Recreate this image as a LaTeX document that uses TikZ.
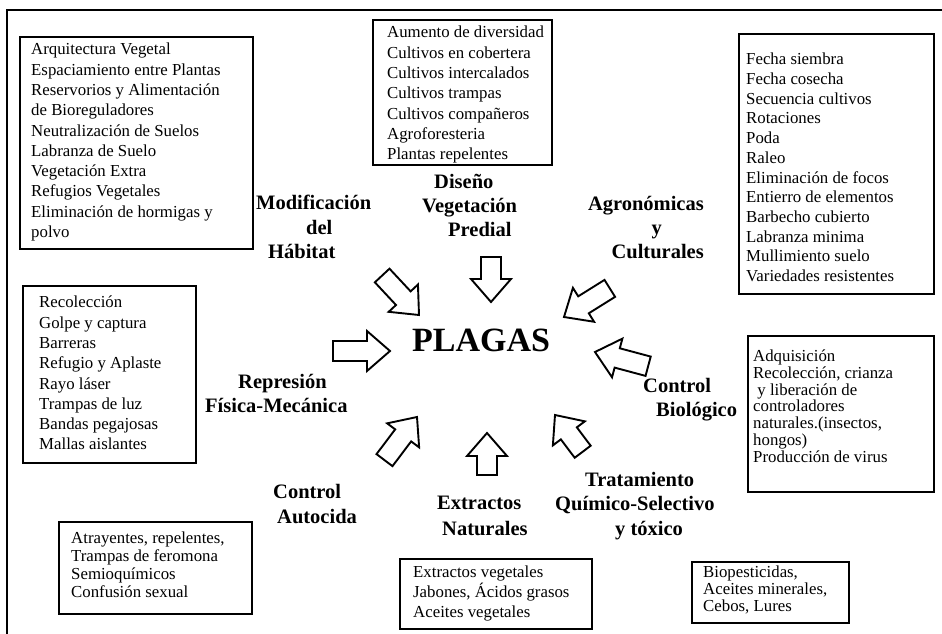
\documentclass[tikz,border=0pt]{standalone}
\usepackage{fontspec}
\setmainfont{Liberation Serif}
\begin{document}
\begin{tikzpicture}[x=1pt,y=-1pt,
  frame/.style={line width=1.8pt},
  listbox/.style={draw, line width=1.9pt, anchor=north west, inner sep=0pt},
  listtext/.style={anchor=north west, inner sep=0pt, align=left,
    font=\fontsize{16.8}{#1}\selectfont,
    execute at begin node={\rule{0pt}{12pt}}},
  grouplabel/.style={anchor=north west, inner sep=0pt, align=left,
    font=\bfseries\fontsize{20.5}{#1}\selectfont,
    execute at begin node={\rule{0pt}{15pt}}},
  arrowline/.style={draw, fill=white, line width=1.9pt, line join=miter},
  pics/blockarrow/.style={code={
    \draw[arrowline] (0,0) -- (-23,20) -- (-23,10) -- (-#1,10)
      -- (-#1,-10) -- (-23,-10) -- (-23,-20) -- cycle;}}
]
\useasboundingbox (0,0) rectangle (942,634);

% page frame (top and left edges)
\draw[frame] (7,634) -- (7,10) -- (942,10);

% centre
\node[font=\bfseries\fontsize{34}{40}\selectfont, inner sep=0pt] (plagas) at (481,340) {PLAGAS};

% lists of practices
\node[listbox, minimum width=233pt, minimum height=212pt] (boxHab) at (19,36) {};
\node[listtext=20.3] (txtHab) at (31,43) {Arquitectura Vegetal\\Espaciamiento entre Plantas\\Reservorios y Alimentación\\de Bioreguladores\\Neutralización de Suelos\\Labranza de Suelo\\Vegetación Extra\\Refugios Vegetales\\Eliminación de hormigas y\\polvo};

\node[listbox, minimum width=179pt, minimum height=145pt] (boxVeg) at (372,19) {};
\node[listtext=20.3] (txtVeg) at (387,26) {Aumento de diversidad\\Cultivos en cobertera\\Cultivos intercalados\\Cultivos trampas\\Cultivos compañeros\\Agroforesteria\\Plantas repelentes};

\node[listbox, minimum width=195pt, minimum height=260pt] (boxAgr) at (738,33) {};
\node[listtext=19.7] (txtAgr) at (746,53) {Fecha siembra\\Fecha cosecha\\Secuencia cultivos\\Rotaciones\\Poda\\Raleo\\Eliminación de focos\\Entierro de elementos\\Barbecho cubierto\\Labranza minima\\Mullimiento suelo\\Variedades resistentes};

\node[listbox, minimum width=173pt, minimum height=177pt] (boxFis) at (22,285) {};
\node[listtext=20.3] (txtFis) at (39,296) {Recolección\\Golpe y captura\\Barreras\\Refugio y Aplaste\\Rayo láser\\Trampas de luz\\Bandas pegajosas\\Mallas aislantes};

\node[listbox, minimum width=193pt, minimum height=92pt] (boxAut) at (58,521) {};
\node[listtext=18] (txtAut) at (71,532) {Atrayentes, repelentes,\\Trampas de feromona\\Semioquímicos\\Confusión sexual};

\node[listbox, minimum width=192pt, minimum height=70pt] (boxExt) at (399,558) {};
\node[listtext=20] (txtExt) at (413,566) {Extractos vegetales\\Jabones, Ácidos grasos\\Aceites vegetales};

\node[listbox, minimum width=186pt, minimum height=156pt] (boxBio) at (747,335) {};
\node[listtext=16.7] (txtBio) at (753,350) {Adquisición\\Recolección, crianza\\\ y liberación de\\controladores\\naturales.(insectos,\\hongos)\\Producción de virus};

\node[listbox, minimum width=157pt, minimum height=61pt] (boxQui) at (691,561) {};
\node[listtext=17] (txtQui) at (703,566) {Biopesticidas,\\Aceites minerales,\\Cebos, Lures};

% group headings
\node[grouplabel=24.5] (labHab) at (256,195) {Modificación\\\hspace*{50pt}del\\\hspace*{12pt}Hábitat};
\node[grouplabel=24] (labVeg) at (435,174) {\hspace*{-1pt}Diseño\\\hspace*{-13pt}Vegetación\\\hspace*{13pt}Predial};
\node[grouplabel=24, anchor=north east, align=right] (labAgr) at (704,196) {Agronómicas\\y\rule{42pt}{0pt}\\Culturales};
\node[grouplabel=24] (labFis) at (205,374) {\hspace*{33pt}Represión\\Física-Mecánica};
\node[grouplabel=25] (labAut) at (273,484) {Control\\\hspace*{4pt}Autocida};
\node[grouplabel=26] (labExt) at (437,496) {Extractos\\\hspace*{5pt}Naturales};
\node[grouplabel=24.5] (labQui) at (555,472) {\hspace*{30pt}Tratamiento\\Químico-Selectivo\\\hspace*{60pt}y tóxico};
\node[grouplabel=24.5] (labBio) at (643,378) {Control\\\hspace*{13pt}Biológico};

% block arrows towards the centre
\pic[rotate=-47] (arrHab) at (419,315) {blockarrow=54};
\pic[rotate=-90] (arrVeg) at (491,302) {blockarrow=45};
\pic[rotate=212] (arrAgr) at (564,317) {blockarrow=54};
\pic[rotate=0]   (arrFis) at (390,351) {blockarrow=57};
\pic[rotate=165] (arrBio) at (595,352) {blockarrow=55};
\pic[rotate=53]  (arrAut) at (417,417) {blockarrow=54};
\pic[rotate=90]  (arrExt) at (487,433) {blockarrow=42};
\pic[rotate=127] (arrQui) at (555,415) {blockarrow=46};
\end{tikzpicture}
\end{document}
